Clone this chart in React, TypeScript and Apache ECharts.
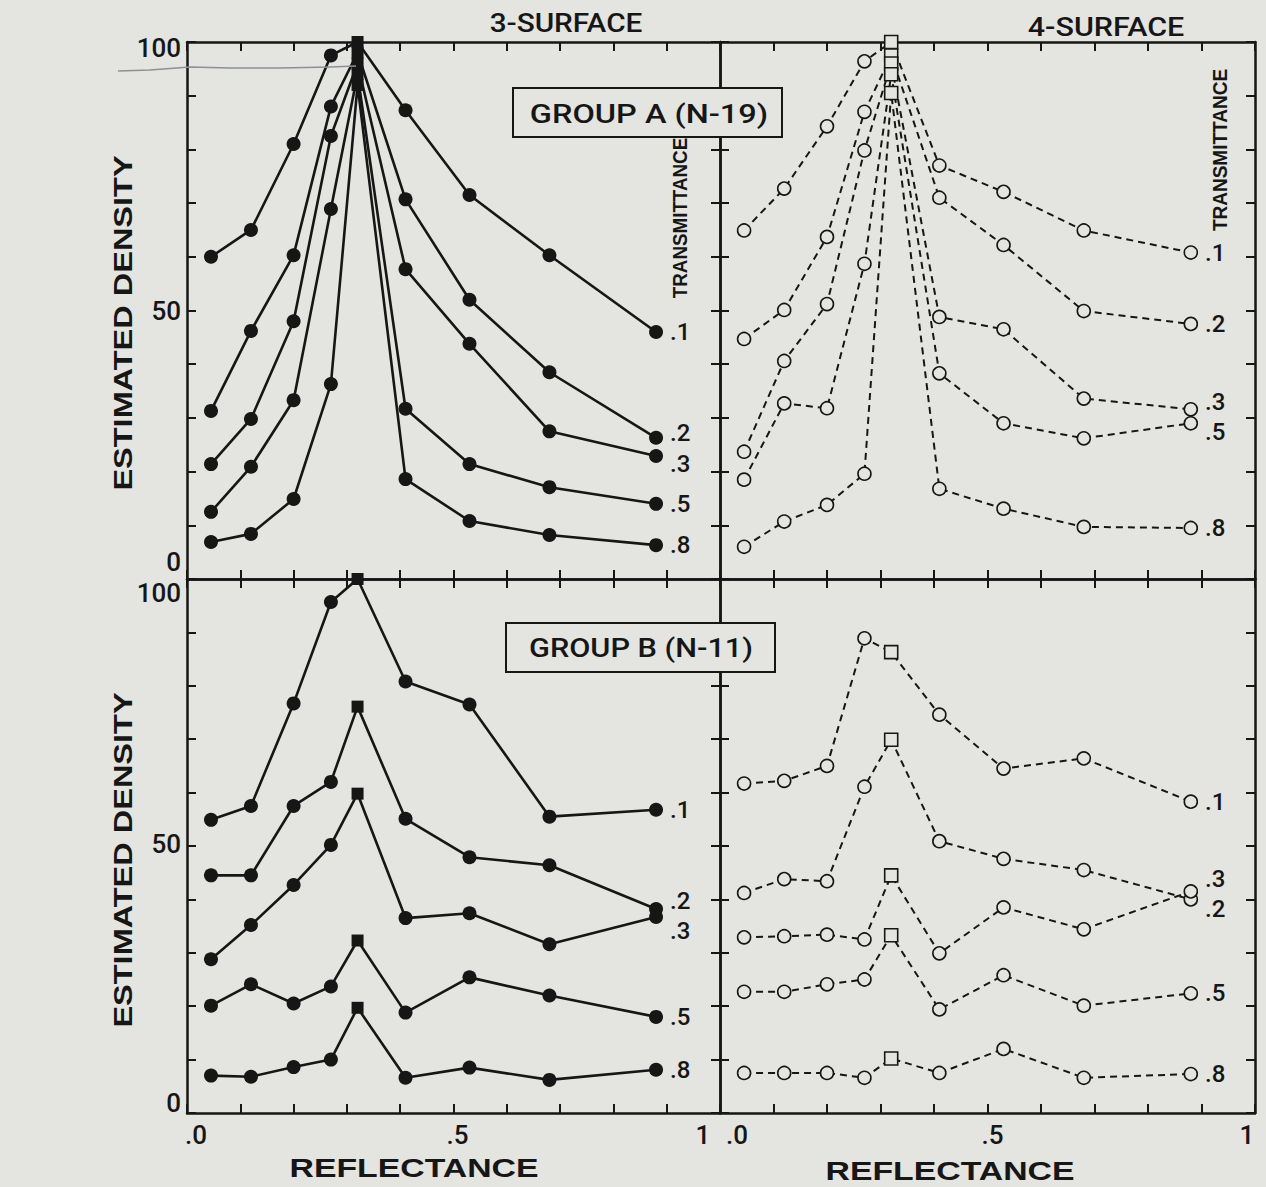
import React, { useEffect, useRef } from 'react';
import * as echarts from 'echarts';

// ---------- data ----------
const reflectance = [0.045, 0.12, 0.2, 0.27, 0.32, 0.41, 0.53, 0.68, 0.88];
const transmittanceLabels = ['.1', '.2', '.3', '.5', '.8'];
const peakIndex = 4;

// Group A (N-19), 3-surface
const a3T1 = [60, 65, 81, 97.5, 100, 87.3, 71.5, 60.3, 46];
const a3T2 = [31.3, 46.2, 60.3, 88, 98, 70.7, 52, 38.5, 26.3];
const a3T3 = [21.4, 29.8, 48, 82.5, 96, 57.7, 43.8, 27.5, 22.9];
const a3T5 = [12.5, 20.9, 33.3, 68.9, 94, 31.7, 21.4, 17.1, 14];
const a3T8 = [6.9, 8.4, 14.9, 36.3, 92, 18.6, 10.8, 8.2, 6.3];

// Group A (N-19), 4-surface
const a4T1 = [64.9, 72.7, 84.3, 96.4, 100, 77, 72.1, 64.9, 60.8];
const a4T2 = [44.7, 50.1, 63.7, 87, 97.5, 71, 62.2, 49.9, 47.5];
const a4T3 = [23.7, 40.6, 51.2, 79.8, 96, 48.8, 46.5, 33.6, 31.6];
const a4T5 = [18.5, 32.7, 31.8, 58.7, 94, 38.3, 29, 26.2, 29];
const a4T8 = [6, 10.7, 13.8, 19.6, 90.5, 16.8, 13.1, 9.7, 9.5];

// Group B (N-11), 3-surface
const b3T1 = [54.9, 57.5, 76.7, 95.7, 100, 80.8, 76.5, 55.5, 56.8];
const b3T2 = [44.5, 44.5, 57.5, 62, 76.1, 55.1, 47.9, 46.4, 38.2];
const b3T3 = [28.8, 35.2, 42.7, 50.2, 59.8, 36.5, 37.4, 31.6, 36.7];
const b3T5 = [20.1, 24.1, 20.5, 23.7, 32.3, 18.8, 25.4, 22, 18];
const b3T8 = [7, 6.8, 8.6, 10, 19.7, 6.6, 8.5, 6.2, 8.1];

// Group B (N-11), 4-surface
const b4T1 = [61.7, 62.2, 65, 88.9, 86.3, 74.6, 64.5, 66.4, 58.3];
const b4T2 = [41.2, 43.8, 43.4, 61.1, 69.9, 50.9, 47.6, 45.5, 40];
const b4T3 = [32.9, 33.1, 33.4, 32.5, 44.5, 29.9, 38.5, 34.4, 41.5];
const b4T5 = [22.7, 22.7, 24.1, 25, 33.3, 19.4, 25.8, 20.1, 22.4];
const b4T8 = [7.5, 7.5, 7.5, 6.6, 10.2, 7.5, 12, 6.6, 7.3];

const xTickLabels = ['.0', '.5', '1'];
const yTickLabels = ['0', '50', '100'];

// ---------- style ----------
const BG = '#e4e4e0';
const INK = '#161616';
const FONT = '"Liberation Sans", Arial, Helvetica, sans-serif';
const MFONT = 'Roboto, "Liberation Sans", Arial, sans-serif';
const MW = 500;

const panels = [
  { grid: { left: 187, top: 42, width: 533, height: 537 }, rows: [a3T1, a3T2, a3T3, a3T5, a3T8], filled: true, labelDy: [0, -5, 8, 0, 0], bottomRow: false, leftCol: true },
  { grid: { left: 720, top: 42, width: 535, height: 537 }, rows: [a4T1, a4T2, a4T3, a4T5, a4T8], filled: false, labelDy: [0, 0, -7, 9, 0], bottomRow: false, leftCol: false },
  { grid: { left: 187, top: 579, width: 533, height: 534 }, rows: [b3T1, b3T2, b3T3, b3T5, b3T8], filled: true, labelDy: [0, -8, 14, 0, 0], bottomRow: true, leftCol: true },
  { grid: { left: 720, top: 579, width: 535, height: 534 }, rows: [b4T1, b4T2, b4T3, b4T5, b4T8], filled: false, labelDy: [0, 10, -12, 0, 0], bottomRow: true, leftCol: false },
];

const near = (a: number, b: number) => Math.abs(a - b) < 1e-6;

const axisLine = { show: true, onZero: false, lineStyle: { color: INK, width: 2.5 } };
const axisTick = { show: true, inside: true, length: 9, lineStyle: { color: INK, width: 2 } };

const TICK_FS = 26;

function richTok(pad: number[]) {
  return { fontSize: TICK_FS, lineHeight: 24, fontFamily: MFONT, fontWeight: MW, color: INK, padding: pad };
}

function xLabel(left: boolean) {
  const pads = left
    ? [[0, 0, 0, 18], [0, 0, 0, 8], [0, 34, 0, 0]]
    : [[0, 0, 0, 34], [0, 0, 0, 10], [0, 16, 0, 0]];
  return {
    show: true,
    margin: 10,
    fontSize: TICK_FS,
    fontFamily: MFONT,
    fontWeight: MW,
    color: INK,
    showMinLabel: true,
    showMaxLabel: true,
    formatter: (v: number) =>
      near(v, 0) ? `{a|${xTickLabels[0]}}` : near(v, 0.5) ? `{b|${xTickLabels[1]}}` : near(v, 1) ? `{c|${xTickLabels[2]}}` : '',
    rich: { a: richTok(pads[0]), b: richTok(pads[1]), c: richTok(pads[2]) },
  };
}

function yLabel(top: boolean) {
  const pads = top
    ? [[0, 0, 34, 0], [0, 0, 0, 0], [12, 0, 0, 0]]
    : [[0, 0, 20, 0], [0, 0, 4, 0], [28, 0, 0, 0]];
  return {
    show: true,
    margin: 6,
    fontSize: TICK_FS,
    fontFamily: MFONT,
    fontWeight: MW,
    color: INK,
    showMinLabel: true,
    showMaxLabel: true,
    formatter: (v: number) =>
      near(v, 0) ? `{z|${yTickLabels[0]}}` : near(v, 50) ? `{m|${yTickLabels[1]}}` : near(v, 100) ? `{t|${yTickLabels[2]}}` : '',
    rich: { z: richTok(pads[0]), m: richTok(pads[1]), t: richTok(pads[2]) },
  };
}

function buildOption() {
  const grids: any[] = [];
  const xAxes: any[] = [];
  const yAxes: any[] = [];
  const series: any[] = [];

  panels.forEach((p, gi) => {
    grids.push({ ...p.grid, containLabel: false, outerBoundsMode: 'none', show: false });
    const xBase = { type: 'value', gridIndex: gi, min: 0, max: 1, interval: 0.1, axisLine, axisTick, splitLine: { show: false } };
    const yBase = { type: 'value', gridIndex: gi, min: 0, max: 100, interval: 10, axisLine, axisTick, splitLine: { show: false } };
    xAxes.push({ ...xBase, position: 'bottom', axisLabel: p.bottomRow ? xLabel(p.leftCol) : { show: false } });
    xAxes.push({ ...xBase, position: 'top', axisLabel: { show: false } });
    yAxes.push({ ...yBase, position: 'left', axisLabel: p.leftCol ? yLabel(!p.bottomRow) : { show: false } });
    yAxes.push({ ...yBase, position: 'right', axisLabel: { show: false } });

    p.rows.forEach((vals, si) => {
      series.push({
        type: 'line',
        name: `${gi}-${transmittanceLabels[si]}`,
        xAxisIndex: gi * 2,
        yAxisIndex: gi * 2,
        clip: false,
        silent: true,
        symbol: 'circle',
        symbolSize: p.filled ? 14 : 13,
        lineStyle: { color: INK, width: p.filled ? 2.6 : 2, type: p.filled ? 'solid' : [7, 5] },
        itemStyle: p.filled ? { color: INK } : { color: BG, borderColor: INK, borderWidth: 1.6 },
        emphasis: { disabled: true },
        data: vals.map((v, i) => {
          const item: any = { value: [reflectance[i], v] };
          if (i === peakIndex) {
            item.symbol = 'rect';
            item.symbolSize = p.filled ? 12 : 13;
          }
          if (i === vals.length - 1) {
            item.label = {
              show: true,
              position: 'right',
              distance: 7,
              formatter: transmittanceLabels[si],
              offset: [0, p.labelDy[si]],
              fontSize: 24,
              lineHeight: 22,
              fontFamily: MFONT,
              fontWeight: MW,
              color: INK,
            };
          }
          return item;
        }),
      });
    });
  });

  const txt = (text: string, x: number, y: number, size: number, weight: any, sx: number, rot: number, family = FONT) => ({
    type: 'text',
    x,
    y,
    rotation: rot,
    scaleX: sx,
    z: 110,
    silent: true,
    style: { text, fontSize: size, fontWeight: weight, fontFamily: family, fill: INK, align: 'center', verticalAlign: 'middle' },
  });

  const graphic: any[] = [
    {
      type: 'polyline',
      z: 5,
      silent: true,
      shape: { points: [[118, 71], [150, 70], [190, 67], [230, 68], [280, 68], [330, 67], [356, 66]] },
      style: { stroke: '#8d9195', lineWidth: 1.6, fill: null },
    },
    txt('3-SURFACE', 566, 24, 25, MW, 1.19, 0, MFONT),
    txt('4-SURFACE', 1106, 27, 25, MW, 1.22, 0, MFONT),
    txt('ESTIMATED DENSITY', 123, 323, 26, 'bold', 1.25, Math.PI / 2),
    txt('ESTIMATED DENSITY', 123, 860, 26, 'bold', 1.25, Math.PI / 2),
    txt('REFLECTANCE', 414, 1168, 26, 'bold', 1.3, 0),
    txt('REFLECTANCE', 950, 1171, 26, 'bold', 1.3, 0),
    txt('TRANSMITTANCE', 680, 218, 20, 'bold', 0.94, Math.PI / 2),
    txt('TRANSMITTANCE', 1220, 150, 20, 'bold', 0.95, Math.PI / 2),
    { type: 'rect', z: 100, silent: true, shape: { x: 513, y: 88, width: 269, height: 49 }, style: { fill: BG, stroke: INK, lineWidth: 2 } },
    txt('GROUP A (N-19)', 649, 114, 26, MW, 1.25, 0, MFONT),
    { type: 'rect', z: 100, silent: true, shape: { x: 506, y: 623, width: 269, height: 49 }, style: { fill: BG, stroke: INK, lineWidth: 2 } },
    txt('GROUP B (N-11)', 641, 648, 26, MW, 1.18, 0, MFONT),
  ];

  return {
    animation: false,
    backgroundColor: BG,
    grid: grids,
    xAxis: xAxes,
    yAxis: yAxes,
    series,
    graphic,
  };
}

export default function App() {
  const ref = useRef<HTMLDivElement>(null);
  useEffect(() => {
    if (!ref.current) return;
    const chart = echarts.init(ref.current, null, { renderer: 'svg' });
    chart.setOption(buildOption() as any);
    return () => chart.dispose();
  }, []);
  return (
    <div
      ref={ref}
      style={{ position: 'absolute', left: 0, top: 0, width: 1266, height: 1187, background: BG }}
    />
  );
}
